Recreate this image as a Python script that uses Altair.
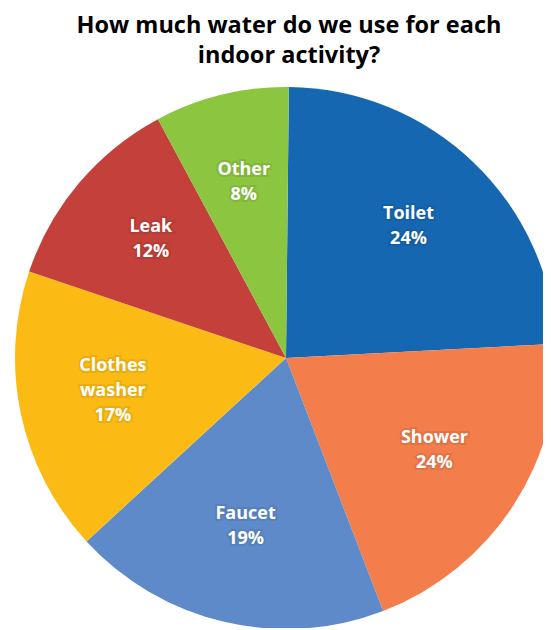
import altair as alt
import pandas as pd

categories = ["Toilet", "Shower", "Faucet", "Clothes washer", "Leak", "Other"]
values = [24, 20, 19, 17, 12, 8]
labels = ["Toilet\n24%", "Shower\n24%", "Faucet\n19%", "Clothes\nwasher\n17%", "Leak\n12%", "Other\n8%"]
colors = ["#1667b1", "#f37d4b", "#5e8ac9", "#fcbb14", "#c4403b", "#8cc540"]
title_lines = ["How much water do we use for each", "indoor activity?"]

df = pd.DataFrame({"category": categories, "value": values, "label": labels,
                   "idx": list(range(len(categories)))})
df["nlines"] = df["label"].str.count("\n") + 1

CX, CY, R = 278, 350, 271
LH = 25
START = 0.0105
theta_scale = alt.Scale(range=[START, START + 6.283185])

base = alt.Chart(df).encode(
    theta=alt.Theta("value:Q", stack=True, scale=theta_scale),
    order=alt.Order("idx:Q"),
)

arcs = base.mark_arc(outerRadius=R).encode(
    color=alt.Color("category:N", scale=alt.Scale(domain=categories, range=colors), legend=None),
    x=alt.value(CX), y=alt.value(CY),
)

def label_layer(n, glow):
    props = dict(radius=177, font="Open Sans", fontWeight="bold", fontSize=18,
                 lineBreak="\n", lineHeight=LH, align="center", baseline="middle",
                 dy=-(n - 1) * LH / 2 - 4)
    if glow:
        props.update(color="black", stroke="black", strokeWidth=4, opacity=0.07)
    else:
        props.update(color="white")
    return base.mark_text(**props).encode(
        text=alt.condition(alt.datum.nlines == n, "label:N", alt.value("")),
        x=alt.value(CX), y=alt.value(CY))

layers = [arcs]
for g in (True, False):
    for n in (2, 3):
        layers.append(label_layer(n, g))

for i, line in enumerate(title_lines):
    layers.append(alt.Chart(pd.DataFrame({"t": [line]})).mark_text(
        font="Open Sans", fontWeight="bold", fontSize=23.5, color="black",
        align="center", baseline="alphabetic").encode(
        text="t:N", x=alt.value(281), y=alt.value(25 + 30 * i)))

chart = alt.layer(*layers).properties(
    width=535, height=620, autosize=alt.AutoSizeParams(type="none"), padding=0,
).configure_view(stroke=None)

chart.save("out.html", embed_options={"renderer": "svg", "actions": False})
